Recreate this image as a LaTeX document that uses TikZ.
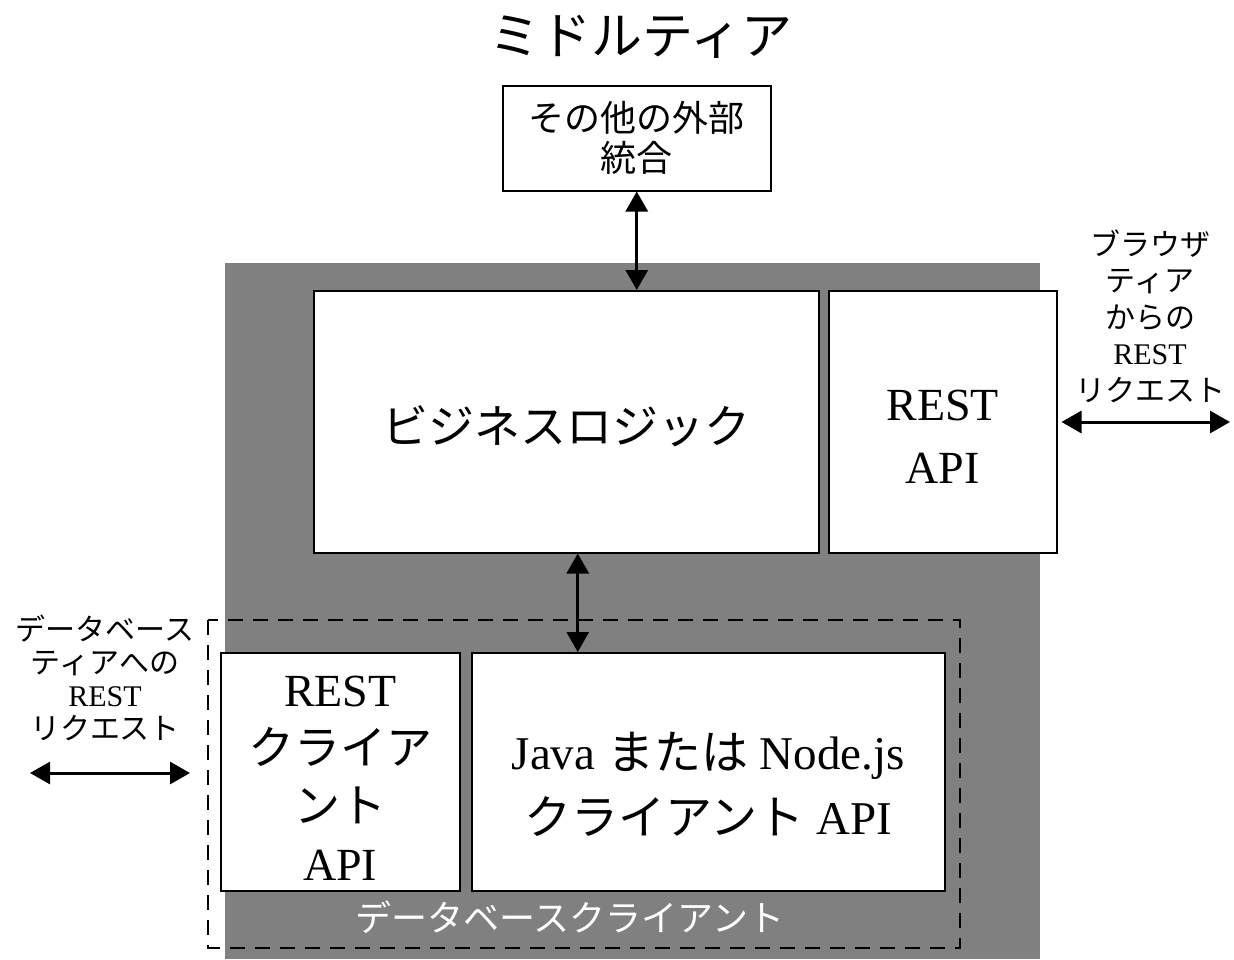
\documentclass[tikz,border=0pt]{standalone}
\usepackage{fontspec}
\setmainfont{Liberation Serif}
\newfontfamily\jp{Noto Sans CJK JP}
\usetikzlibrary{arrows.meta}
\tikzset{
  box/.style={draw, line width=1.5pt, fill=white, inner sep=0pt, anchor=north west, align=center},
  dbl/.style={line width=3pt, {Triangle[width=22pt,length=20pt]}-{Triangle[width=22pt,length=20pt]}},
  lbl/.style={align=center, inner sep=0pt},
}
\definecolor{midgray}{RGB}{128,128,128}
\begin{document}
\begin{tikzpicture}[x=1pt,y=-1pt]
\useasboundingbox (0,0) rectangle (1234,959);
% gray background
\fill[midgray] (225,263) rectangle (1040,959);
% title
\node[lbl, font=\jp\fontsize{51}{55}\selectfont] (title) at (641,37) {ミドルティア};
% other integrations
\node[box, minimum width=268pt, minimum height=105pt, font=\jp\fontsize{36}{40}\selectfont] (other) at (502,85)
  {その他の外部\\統合};
% business logic
\node[box, minimum width=505pt, minimum height=262pt, font=\jp\fontsize{46}{50}\selectfont, text height=43pt, text depth=0pt] (biz) at (313,290)
  {ビジネスロジック};
% REST API
\node[box, minimum width=228pt, minimum height=262pt, font=\fontsize{46}{63}\selectfont, text height=124pt, text depth=0pt] (rapi) at (828,290)
  {REST\\API};
% dashed database client region
\draw[line width=1.5pt, dash pattern=on 15pt off 10pt] (208,620) rectangle (960,948);
% REST client API
\node[box, minimum width=239pt, minimum height=238pt, font=\fontsize{46}{58}\selectfont, text height=218pt, text depth=0pt] (rcl) at (220,652)
  {REST\\{\jp クライア}\\{\jp ント}\\API};
% Java / Node.js client API
\node[box, minimum width=473pt, minimum height=238pt, font=\fontsize{47}{65}\selectfont, text height=126pt, text depth=0pt] (java) at (471,652)
  {Java {\jp または} Node.js\\{\jp クライアント} API};
% database client label
\node[lbl, text=white, font=\jp\fontsize{36}{40}\selectfont] (dbc) at (570,917) {データベースクライアント};
% side labels
\node[lbl, font=\fontsize{30}{36.5}\selectfont] (brw) at (1150,316) {{\jp ブラウザ}\\{\jp ティア}\\{\jp からの}\\REST\\{\jp リクエスト}};
\node[lbl, font=\fontsize{30}{33}\selectfont] (dbt) at (105,678) {{\jp データベース}\\{\jp ティアへの}\\REST\\{\jp リクエスト}};
% connectors
\draw[dbl] (other.south) -- (other.south |- biz.north);
\draw[dbl] ([xshift=11.5pt]biz.south) -- ([xshift=11.5pt]biz.south |- java.north);
\coordinate (rend) at (1230,422);
\coordinate (lend) at (30,773);
\draw[dbl] ([xshift=4pt]rapi.east |- rend) -- (rend);
\draw[dbl] (lend) -- ([xshift=-30pt]rcl.west |- lend);
\end{tikzpicture}
\end{document}
